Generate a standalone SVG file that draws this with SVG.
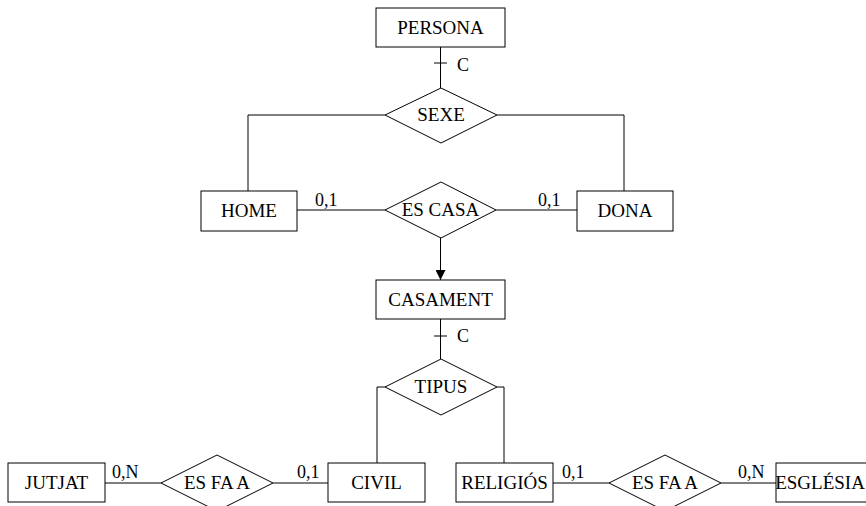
<svg xmlns="http://www.w3.org/2000/svg" width="866" height="506" viewBox="0 0 866 506">
<style>
.n{fill:#fff;stroke:#000;stroke-width:1}
.t{font-family:"Liberation Serif","Times New Roman",serif;font-size:19px;text-anchor:middle;fill:#000}
.l{font-family:"Liberation Serif","Times New Roman",serif;font-size:18px;fill:#000}
.c{fill:none;stroke:#000;stroke-width:1}
</style>
<defs>
<marker id="arr" markerWidth="10" markerHeight="10" refX="10" refY="5" orient="auto" markerUnits="userSpaceOnUse">
<path d="M0,0 L10,5 L0,10 Z" fill="#000"/>
</marker>
</defs>
<rect width="866" height="506" fill="#fff"/>
<g id="connectors">
<path class="c" d="M440.5,47 V88"/>
<path class="c" d="M434,63 H447"/>
<path class="c" d="M385,115 H248 V191"/>
<path class="c" d="M497,115 H624 V191"/>
<path class="c" d="M297,210 H385"/>
<path class="c" d="M496,210 H577"/>
<path class="c" d="M440.5,238 V280" marker-end="url(#arr)"/>
<path class="c" d="M440.5,319 V359"/>
<path class="c" d="M434,336 H447"/>
<path class="c" d="M385,387 H377 V463"/>
<path class="c" d="M497,387 H504 V463"/>
<path class="c" d="M105,483 H161"/>
<path class="c" d="M273,483 H328"/>
<path class="c" d="M553,483 H609"/>
<path class="c" d="M721,483 H776"/>
<text class="l" x="457" y="71">C</text>
<text class="l" x="457" y="342">C</text>
<text class="l" x="315" y="206">0,1</text>
<text class="l" x="538" y="206">0,1</text>
<text class="l" x="112" y="478">0,N</text>
<text class="l" x="297" y="478">0,1</text>
<text class="l" x="562" y="478">0,1</text>
<text class="l" x="738" y="478">0,N</text>
</g>
<g id="persona"><rect class="n" x="376" y="8" width="129" height="39"/><text class="t" x="440.5" y="34">PERSONA</text></g>
<g id="sexe"><polygon class="n" points="441,88 497,115 441,143 385,115"/><text class="t" x="441" y="121">SEXE</text></g>
<g id="home"><rect class="n" x="201" y="191" width="96" height="40"/><text class="t" x="249" y="217">HOME</text></g>
<g id="dona"><rect class="n" x="577" y="191" width="96" height="40"/><text class="t" x="625" y="217">DONA</text></g>
<g id="escasa"><polygon class="n" points="441,182 496,210 441,238 385,210"/><text class="t" x="440.5" y="216">ES CASA</text></g>
<g id="casament"><rect class="n" x="376" y="280" width="129" height="39"/><text class="t" x="440.5" y="306">CASAMENT</text></g>
<g id="tipus"><polygon class="n" points="441,359 497,387 441,415 385,387"/><text class="t" x="441" y="393">TIPUS</text></g>
<g id="jutjat"><rect class="n" x="8" y="463" width="97" height="39"/><text class="t" x="56.5" y="489">JUTJAT</text></g>
<g id="esfaa1"><polygon class="n" points="217,455 273,483 217,511 161,483"/><text class="t" x="217" y="489">ES FA A</text></g>
<g id="civil"><rect class="n" x="328" y="463" width="97" height="39"/><text class="t" x="376.5" y="489">CIVIL</text></g>
<g id="religios"><rect class="n" x="456" y="463" width="97" height="39"/><text class="t" x="504.5" y="489">RELIGIÓS</text></g>
<g id="esfaa2"><polygon class="n" points="665,455 721,483 665,511 609,483"/><text class="t" x="665" y="489">ES FA A</text></g>
<g id="esglesia"><rect class="n" x="776" y="463" width="97" height="39"/><text class="t" x="820" y="489" font-size="18">ESGLÉSIA</text></g>
</svg>
